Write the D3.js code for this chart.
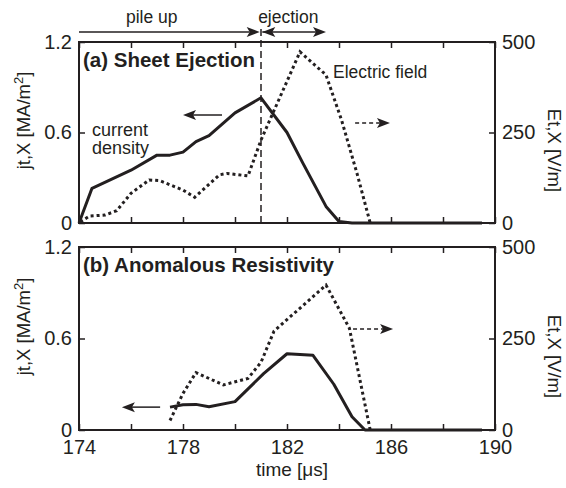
<!DOCTYPE html>
<html>
<head>
<meta charset="utf-8">
<script src="https://cdn.jsdelivr.net/npm/d3@7"></script>
<style>
  body { margin: 0; background: #fff; }
  text { font-family: "Liberation Sans", Arial, sans-serif; fill: #231f20; }
</style>
</head>
<body>
<div id="chart"></div>
<script>
// axis ticks
const timeTicks = [174, 176, 178, 180, 182, 184, 186, 188, 190]
const timeLabels = [174, 178, 182, 186, 190]
const jTicks = [0, 0.6, 1.2]
const eTicks = [0, 250, 500]

// (a) sheet ejection: current density [MA/m2] and electric field [V/m]
const timeA_j = [174, 174.5, 176, 177, 177.5, 178, 178.5, 179, 180, 181, 182, 182.6, 183.5, 184, 184.5, 189.5]
const jA = [0, 0.23, 0.35, 0.45, 0.45, 0.47, 0.54, 0.58, 0.73, 0.83, 0.60, 0.40, 0.11, 0.01, 0, 0]
const timeA_e = [174.05, 174.4, 175, 175.45, 176, 176.7, 177.1, 178, 178.45, 179.4, 179.7, 180.5, 181, 182.5, 183.5, 184.1, 184.7, 185.2]
const eA = [3, 19, 22, 34, 82, 119, 117, 91, 71, 133, 137, 130, 229, 473, 409, 284, 135, 0]

// (b) anomalous resistivity
const timeB_j = [177.5, 178, 178.5, 179, 180, 181.1, 182, 183, 183.8, 184.5, 185, 189.5]
const jB = [0.15, 0.165, 0.168, 0.152, 0.186, 0.37, 0.50, 0.49, 0.30, 0.087, 0, 0]
const timeB_e = [177.5, 178, 178.5, 179.55, 180.5, 181, 181.5, 183.5, 184.4, 185.2]
const eB = [26, 100, 157, 123, 141, 185, 270, 396, 278, 0]

const ink = "#231f20"
const width = 566, height = 488
const left = 79, right = 495

const svg = d3.select("#chart")
    .append("svg")
    .attr("width", width)
    .attr("height", height)

const x = d3.scaleLinear().domain([174, 190]).range([left, right])

// filled arrow head with a notch, tip at (0,0) pointing +x
const headPath = "M0,0 L-13,-5 L-10,0 L-13,5 Z"

function arrow(g, x1, y1, x2, y2, dashed, both) {
    g.append("line")
        .attr("x1", x1).attr("y1", y1)
        .attr("x2", x2 - Math.sign(x2 - x1) * 10).attr("y2", y2)
        .attr("stroke", ink)
        .attr("stroke-width", 1.5)
        .attr("stroke-dasharray", dashed ? "4,3" : null)
    const ang = Math.atan2(y2 - y1, x2 - x1) * 180 / Math.PI
    g.append("path").attr("d", headPath).attr("fill", ink)
        .attr("transform", `translate(${x2},${y2}) rotate(${ang})`)
    if (both) {
        g.append("path").attr("d", headPath).attr("fill", ink)
            .attr("transform", `translate(${x1},${y1}) rotate(${ang + 180})`)
    }
}

function panel(top, bottom, tj, jv, te, ev, showTime) {
    const g = svg.append("g")
    const yJ = d3.scaleLinear().domain([0, 1.2]).range([bottom, top])
    const yE = d3.scaleLinear().domain([0, 500]).range([bottom, top])

    g.append("g")
        .attr("transform", `translate(0,${bottom})`)
        .call(d3.axisBottom(x).tickValues(timeTicks).tickSizeInner(-6).tickSizeOuter(0)
            .tickPadding(10)
            .tickFormat(d => showTime && timeLabels.includes(d) ? d : ""))
    g.append("g")
        .attr("transform", `translate(0,${top})`)
        .call(d3.axisTop(x).tickValues(timeTicks).tickSizeInner(-6).tickSizeOuter(0).tickFormat(""))
    g.append("g")
        .attr("transform", `translate(${left},0)`)
        .call(d3.axisLeft(yJ).tickValues(jTicks).tickSizeInner(-6).tickSizeOuter(0).tickPadding(7)
            .tickFormat(d => d === 0 ? "0" : d3.format(".1f")(d)))
    g.append("g")
        .attr("transform", `translate(${right},0)`)
        .call(d3.axisRight(yE).tickValues(eTicks).tickSizeInner(-6).tickSizeOuter(0).tickPadding(7))

    g.selectAll(".domain").remove()
    g.selectAll(".tick line").attr("stroke", ink).attr("stroke-width", 1.5)
    g.selectAll(".tick text").style("font-size", "20px").attr("fill", ink)

    g.append("rect")
        .attr("x", left).attr("y", top)
        .attr("width", right - left).attr("height", bottom - top)
        .attr("fill", "none").attr("stroke", ink).attr("stroke-width", 2)

    // electric field (dotted, right axis)
    g.append("path")
        .datum(d3.zip(te, ev))
        .attr("fill", "none")
        .attr("stroke", ink)
        .attr("stroke-width", 3)
        .attr("stroke-dasharray", "3,3")
        .attr("d", d3.line().x(d => x(d[0])).y(d => yE(d[1])))

    // current density (solid, left axis)
    g.append("path")
        .datum(d3.zip(tj, jv))
        .attr("fill", "none")
        .attr("stroke", ink)
        .attr("stroke-width", 3)
        .attr("stroke-linejoin", "round")
        .attr("d", d3.line().x(d => x(d[0])).y(d => yJ(d[1])))

    // axis titles
    const mid = (top + bottom) / 2
    const lt = g.append("text")
        .attr("transform", `translate(30,${mid - 12}) rotate(-90)`)
        .attr("text-anchor", "middle")
        .style("font-size", "18.5px")
    lt.append("tspan").text("jt,X [MA/m")
    lt.append("tspan").attr("dy", -7).style("font-size", "13px").text("2")
    lt.append("tspan").attr("dy", 7).text("]")

    g.append("text")
        .attr("transform", `translate(548,${mid + 18}) rotate(90)`)
        .attr("text-anchor", "middle")
        .style("font-size", "18.5px")
        .text("Et,X [V/m]")

    return { g, yJ, yE }
}

// (a)
const a = panel(42, 223, timeA_j, jA, timeA_e, eA, false)
a.g.append("text").attr("x", 83).attr("y", 67)
    .style("font-size", "20.5px").style("font-weight", "bold")
    .text("(a) Sheet Ejection")
a.g.append("text").attr("x", 92).attr("y", 136).style("font-size", "18px").text("current")
a.g.append("text").attr("x", 92).attr("y", 154).style("font-size", "18px").text("density")
a.g.append("text").attr("x", 333).attr("y", 78).style("font-size", "17.5px").text("Electric field")

// ejection marker
svg.append("line")
    .attr("x1", x(181)).attr("x2", x(181))
    .attr("y1", 29).attr("y2", 223)
    .attr("stroke", ink).attr("stroke-width", 1.5)
    .attr("stroke-dasharray", "7,4")

arrow(a.g, x(179.5), a.yJ(0.716), x(178.0), a.yJ(0.716), false, false)
arrow(a.g, x(184.62), a.yE(276), x(185.96), a.yE(276), true, false)

// phase arrows above panel (a)
arrow(svg, x(174), 32, x(180.95), 32, false, false)
arrow(svg, x(181.05), 32, x(183.5), 32, false, true)
svg.append("text").attr("x", x(176.8)).attr("y", 23)
    .attr("text-anchor", "middle").style("font-size", "17.5px").text("pile up")
svg.append("text").attr("x", x(182.05)).attr("y", 23)
    .attr("text-anchor", "middle").style("font-size", "17.5px").text("ejection")

// (b)
const b = panel(247, 430, timeB_j, jB, timeB_e, eB, true)
b.g.append("text").attr("x", 83).attr("y", 272)
    .style("font-size", "20.5px").style("font-weight", "bold")
    .text("(b) Anomalous Resistivity")
arrow(b.g, x(177.12), b.yJ(0.15), x(175.65), b.yJ(0.15), false, false)
arrow(b.g, x(184.54), b.yE(276), x(186.08), b.yE(276), true, false)

svg.append("text").attr("x", 292).attr("y", 476)
    .attr("text-anchor", "middle").style("font-size", "19px").text("time [μs]")
</script>
</body>
</html>
